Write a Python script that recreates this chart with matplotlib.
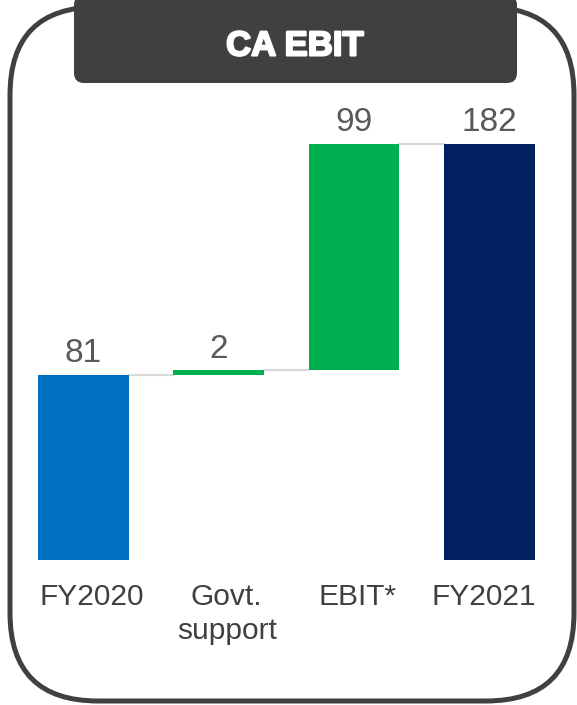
import matplotlib
matplotlib.use("Agg")
import matplotlib.pyplot as plt
import matplotlib.patheffects as pe
import matplotlib.transforms as mtransforms
from matplotlib.patches import FancyBboxPatch

plt.rcParams['font.family'] = ['Liberation Sans', 'DejaVu Sans']

# waterfall data
categories = ['FY2020', 'Govt.\nsupport', 'EBIT*', 'FY2021']
deltas = [81, 2, 99, 182]
kinds = ['total', 'step', 'step', 'total']
colors = ['#0070C0', '#00B050', '#00B050', '#002060']
title = 'CA EBIT'

# small horizontal nudges (pixels) for the category text boxes
label_shift = [8, 8, 3, -6]

W, H = 577, 705
fig = plt.figure(figsize=(W / 100, H / 100), dpi=100)

# background layer in pixel coordinates for the frame and header
bg = fig.add_axes([0, 0, 1, 1])
bg.set_xlim(0, W)
bg.set_ylim(H, 0)
bg.axis('off')

frame = FancyBboxPatch((10 + 88, 7 + 88), 564 - 176, 694 - 176,
                       boxstyle='round,pad=88',
                       facecolor='white', edgecolor='#404040', linewidth=3.6)
bg.add_patch(frame)
header = FancyBboxPatch((74 + 10, 5), 443 - 20, 78 - 10,
                        boxstyle='round,pad=10',
                        facecolor='#404040', edgecolor='none')
bg.add_patch(header)
bg.add_patch(plt.Rectangle((74, 5), 443, 20, facecolor='#404040', edgecolor='none'))
bg.text(295, 46, title, color='white', fontsize=25, fontweight='bold',
        ha='center', va='center',
        path_effects=[pe.withStroke(linewidth=1.5, foreground='white')])

# chart axes: x 0..3 maps to bar centres, y 0..200
ax = fig.add_axes([15.8 / W, (H - 560) / H, 541.3 / W, 457 / H])
ax.set_xlim(-0.5, 3.5)
ax.set_ylim(0, 200)
ax.axis('off')

width = 0.67
running = 0
tops = []
for i, (d, k, c) in enumerate(zip(deltas, kinds, colors)):
    if k == 'total':
        bottom = 0
        top = d
        running = d
    else:
        bottom = running
        top = running + d
        running = top
    ax.bar(i, top - bottom, bottom=bottom, width=width, color=c, zorder=3)
    ax.text(i, top + 2.5, str(d), ha='center', va='bottom', fontsize=24,
            color='#595959')
    tops.append(top)

# connector lines between bars
for i in range(len(tops) - 1):
    ax.plot([i + width / 2, i + 1 - width / 2], [tops[i], tops[i]],
            color='#D9D9D9', linewidth=1.5, zorder=2)

for i, lab in enumerate(categories):
    tr = ax.transData + mtransforms.ScaledTranslation(label_shift[i] / 100, 0,
                                                      fig.dpi_scale_trans)
    ax.text(i, -10, lab, ha='center', va='top', fontsize=21.5,
            color='#404040', linespacing=1.3, transform=tr)

fig.savefig('out.png', dpi=100)
